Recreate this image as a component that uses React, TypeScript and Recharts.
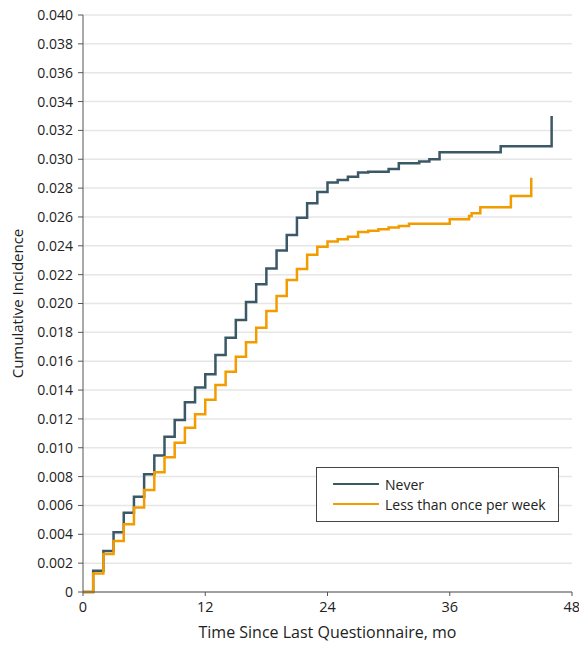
import { LineChart, Line, XAxis, YAxis, CartesianGrid, Legend } from 'recharts';

const xTicks = [0, 12, 24, 36, 48];
const yTicks = [0, 0.002, 0.004, 0.006, 0.008, 0.01, 0.012, 0.014, 0.016, 0.018, 0.02, 0.022, 0.024, 0.026, 0.028, 0.03, 0.032, 0.034, 0.036, 0.038, 0.04];

// Never
const neverMonths = [0, 1, 2, 3, 4, 5, 6, 7, 8, 9, 10, 11, 12, 13, 14, 15, 16, 17, 18, 19, 20, 21, 22, 23, 24, 25, 26, 27, 28, 30, 31, 33, 34, 35, 41, 46];
const neverIncidence = [0, 0.00148, 0.00284, 0.00414, 0.0055, 0.00661, 0.00816, 0.00947, 0.01077, 0.01192, 0.01316, 0.01418, 0.01509, 0.01643, 0.01763, 0.01886, 0.0201, 0.02133, 0.02242, 0.02367, 0.02475, 0.02595, 0.02695, 0.02773, 0.02838, 0.02856, 0.02879, 0.02909, 0.02914, 0.02933, 0.02972, 0.02984, 0.03, 0.03048, 0.0309, 0.033];

// Less than once per week
const lessMonths = [0, 1, 2, 3, 4, 5, 6, 7, 8, 9, 10, 11, 12, 13, 14, 15, 16, 17, 18, 19, 20, 21, 22, 23, 24, 25, 26, 27, 28, 29, 30, 31, 32, 36, 37.9, 38.15, 39, 42, 44];
const lessIncidence = [0, 0.00129, 0.00263, 0.00353, 0.00469, 0.00585, 0.00707, 0.0083, 0.00934, 0.01035, 0.01139, 0.01232, 0.01333, 0.01435, 0.01527, 0.01631, 0.01731, 0.01832, 0.01948, 0.02052, 0.02163, 0.02239, 0.02338, 0.02394, 0.02429, 0.02445, 0.02463, 0.02496, 0.02505, 0.02514, 0.02526, 0.02538, 0.02552, 0.02584, 0.02607, 0.02625, 0.02667, 0.02745, 0.02872];

const neverData = neverMonths.map((t, i) => ({ t, y: neverIncidence[i] }));
const lessData = lessMonths.map((t, i) => ({ t, y: lessIncidence[i] }));

const NEVER = '#3b5866';
const LESS = '#f39c00';
const FONT = '"Open Sans", sans-serif';

const series = [
  { name: 'Never', color: NEVER },
  { name: 'Less than once per week', color: LESS },
];

const renderLegend = () => (
  <div style={{ border: '1px solid #444', background: '#fff', boxSizing: 'border-box', width: 243, height: 55, padding: '6px 0 0 16px', fontFamily: FONT, fontSize: 14, color: '#222' }}>
    {series.map((s) => (
      <div key={s.name} style={{ display: 'flex', alignItems: 'center', height: 20 }}>
        <span style={{ display: 'inline-block', width: 46, height: 2, background: s.color, marginRight: 6 }} />
        <span>{s.name}</span>
      </div>
    ))}
  </div>
);

const yLabel = () => (
  <text x={17} y={303.5} transform="rotate(-90 17 303.5)" textAnchor="middle" dominantBaseline="central" fontFamily={FONT} fontSize={15} fill="#222">
    Cumulative Incidence
  </text>
);

export default function App() {
  return (
    <div style={{ position: 'absolute', left: 0, top: 0, background: '#fff' }}>
      <LineChart width={579} height={645} margin={{ top: 15, right: 7, bottom: 23, left: 23 }}>
        <CartesianGrid vertical={false} stroke="#e6e6e6" strokeWidth={1.5} />
        <XAxis
          dataKey="t"
          type="number"
          domain={[0, 48]}
          ticks={xTicks}
          height={30}
          stroke="#555"
          tickSize={4}
          tickMargin={6}
          tick={{ fill: '#222', fontSize: 14.5, fontFamily: FONT }}
          allowDuplicatedCategory={false}
          label={{ value: 'Time Since Last Questionnaire, mo', position: 'bottom', offset: 5, fill: '#222', fontSize: 16, fontFamily: FONT }}
        />
        <YAxis
          type="number"
          domain={[0, 0.04]}
          ticks={yTicks}
          width={60}
          stroke="#555"
          tickSize={5}
          tickMargin={5}
          interval={0}
          tick={{ fill: '#222', fontSize: 14, fontFamily: FONT }}
          tickFormatter={(v: number) => (v === 0 ? '0' : v.toFixed(3))}
          label={{ content: yLabel }}
        />
        <Legend
          layout="horizontal"
          verticalAlign="middle"
          align="center"
          content={renderLegend}
          wrapperStyle={{ position: 'absolute', left: 316, top: 467, width: 243, height: 55 }}
        />
        <Line data={neverData} dataKey="y" name="Never" type="stepAfter" stroke={NEVER} strokeWidth={2.5} dot={false} isAnimationActive={false} />
        <Line data={lessData} dataKey="y" name="Less than once per week" type="stepAfter" stroke={LESS} strokeWidth={2.5} dot={false} isAnimationActive={false} />
      </LineChart>
    </div>
  );
}
